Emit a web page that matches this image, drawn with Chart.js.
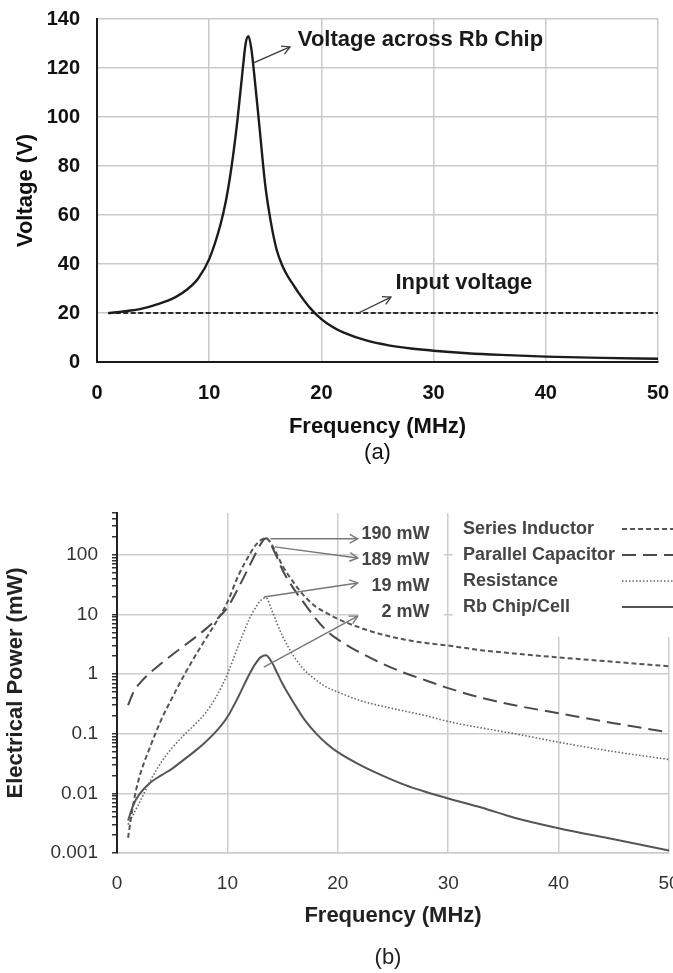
<!DOCTYPE html>
<html><head><meta charset="utf-8">
<script src="https://cdn.jsdelivr.net/npm/chart.js@4.4.1/dist/chart.umd.min.js"></script>
<style>
html,body{margin:0;padding:0;background:#fff;overflow:hidden;width:673px;height:973px;}
#wa{position:absolute;left:0;top:0;width:673px;height:475px;}
#wb{position:absolute;left:0;top:480px;width:692px;height:493px;}
canvas{display:block;}
</style></head><body>
<div id="wa"><canvas id="ca" width="673" height="475" style="width:673px;height:475px"></canvas></div>
<div id="wb"><canvas id="cb" width="692" height="493" style="width:692px;height:493px"></canvas></div>
<script>
// ---------- Chart (a) data ----------
const freqA = [1,2,3,4,5,6,7,8,9,10,11,11.5,12,12.5,13,13.25,13.5,13.75,14,14.5,15,15.5,16,16.5,17,17.5,18,19,20,21,22,24,26,28,30,33,36,40,45,50];
const voltageRbChip = [20.0,20.4,21.0,21.8,23.0,24.5,26.5,29.5,34,42,56,66,80,98,120,130,133,128,118,95,72,57,46,39.5,35,31.5,28,22,17.5,14.3,12,8.8,6.8,5.5,4.6,3.6,2.9,2.2,1.7,1.3];
const inputFreq = [1, 50];
const inputVoltage = [20, 20];
const freqTicks = [0,10,20,30,40,50];
const voltTicks = [0,20,40,60,80,100,120,140];

// ---------- Chart (b) data ----------
const freqB = [1,1.5,2,3,4,5,6,7,8,9,10,11,12,12.5,13,13.5,14,14.5,15,16,17,18,19,20,22,24,26,28,30,33,36,40,45,50];
const powerSeriesInductor = [0.0018,0.007,0.018,0.06,0.17,0.4,0.9,1.9,3.8,7.5,16,45,100,140,175,190,150,100,65,34,20,13.5,10.5,8.4,6.0,4.6,3.8,3.3,3.0,2.5,2.2,1.9,1.6,1.35];
const powerParallelCapacitor = [0.3,0.5,0.68,1.05,1.5,2.1,2.9,4.0,5.6,8.2,13,28,65,100,150,189,140,90,55,27,15,8.5,5.3,3.8,2.3,1.5,1.05,0.78,0.58,0.4,0.3,0.22,0.15,0.105];
const powerResistance = [0.003,0.0045,0.0068,0.016,0.033,0.058,0.092,0.14,0.22,0.42,1.0,3.0,8.5,12.5,17,19,12,7,4.3,2.0,1.15,0.8,0.6,0.5,0.36,0.29,0.24,0.2,0.16,0.125,0.1,0.072,0.05,0.037];
const powerRbChip = [0.0035,0.0065,0.0095,0.015,0.02,0.026,0.036,0.05,0.072,0.11,0.19,0.42,1.0,1.45,1.9,2.07,1.6,1.05,0.68,0.33,0.17,0.102,0.068,0.049,0.03,0.02,0.014,0.0105,0.0082,0.0058,0.0039,0.0026,0.0017,0.0011];
const powerTickValues = [0.001,0.01,0.1,1,10,100];
const powerTickLabels = ['0.001','0.01','0.1','1','10','100'];
const seriesNames = ['Series Inductor','Parallel Capacitor','Resistance','Rb Chip/Cell'];
const peakLabels = ['190 mW','189 mW','19 mW','2 mW'];
const peakArrowFrom = [[13.9,185],[14.3,135],[13.3,19.5],[13.3,1.3]];
const peakArrowTo = [[21.8,185],[21.8,88],[21.8,33.6],[21.8,9.35]];
const peakTextPos = [[28.3,224],[28.3,82],[28.3,29.9],[28.3,11]];

const FONT = "'Liberation Sans', Arial, Helvetica, sans-serif";
const CLEAR = 'rgba(0,0,0,0)';

function arrow(ctx,x1,y1,x2,y2,color,w){
  ctx.save();ctx.strokeStyle=color;ctx.lineWidth=w;ctx.setLineDash([]);
  ctx.beginPath();ctx.moveTo(x1,y1);ctx.lineTo(x2,y2);ctx.stroke();
  const a=Math.atan2(y2-y1,x2-x1),L=9,s=0.5;
  ctx.beginPath();
  ctx.moveTo(x2-L*Math.cos(a-s),y2-L*Math.sin(a-s));ctx.lineTo(x2,y2);
  ctx.lineTo(x2-L*Math.cos(a+s),y2-L*Math.sin(a+s));ctx.stroke();
  ctx.restore();
}
const pts=(xs,ys)=>xs.map((x,i)=>({x:x,y:ys[i]}));

// ---------- Chart (a) ----------
const annotA = [
  {text:'Voltage across Rb Chip', tx:17.9, ty:131.4, from:[13.9,122], to:[17.2,128.6]},
  {text:'Input voltage', tx:26.6, ty:32.2, from:[23.3,20], to:[26.2,26.5]}
];
const pluginA = {
  id:'annA',
  afterDatasetsDraw(chart){
    const {ctx,scales:{x,y},chartArea:ca}=chart;
    annotA.forEach(a=>{
      arrow(ctx,x.getPixelForValue(a.from[0]),y.getPixelForValue(a.from[1]),x.getPixelForValue(a.to[0]),y.getPixelForValue(a.to[1]),'#3a3a3a',1.3);
      ctx.save();ctx.fillStyle='#1a1a1a';ctx.font='bold 22px '+FONT;ctx.textBaseline='middle';ctx.textAlign='left';
      ctx.fillText(a.text,x.getPixelForValue(a.tx),y.getPixelForValue(a.ty));ctx.restore();
    });
    ctx.save();ctx.fillStyle='#111';ctx.font='22px '+FONT;ctx.textAlign='center';ctx.textBaseline='middle';
    ctx.fillText('(a)',(ca.left+ca.right)/2,ca.bottom+91);ctx.restore();
  }
};
new Chart(document.getElementById('ca'),{
  type:'line',
  data:{datasets:[
    {label:'Voltage across Rb Chip',data:pts(freqA,voltageRbChip),borderColor:'#1c1c1c',borderWidth:2.4,pointRadius:0,cubicInterpolationMode:'monotone',fill:false},
    {label:'Input voltage',data:pts(inputFreq,inputVoltage),borderColor:'#2a2a2a',borderWidth:2,borderDash:[5,2.5],pointRadius:0,fill:false}
  ]},
  options:{
    responsive:false,animation:false,devicePixelRatio:1,
    layout:{padding:{top:19,right:15,left:0,bottom:0}},
    plugins:{legend:{display:false},tooltip:{enabled:false}},
    scales:{
      x:{type:'linear',min:0,max:50,afterFit:s=>{s.height=113;},
        afterBuildTicks:s=>{s.ticks=freqTicks.map(v=>({value:v}));},
        ticks:{padding:0,color:'#111',maxRotation:0,font:{family:FONT,size:20,weight:'bold'}},
        grid:{color:c=>(c.tick&&c.tick.value===0)?CLEAR:'#c9c9c9',lineWidth:1.5,drawTicks:true,tickLength:19,tickColor:CLEAR},
        border:{display:true,color:'#1a1a1a',width:2},
        title:{display:true,text:'Frequency (MHz)',color:'#111',font:{family:FONT,size:22,weight:'bold'},padding:{top:0,bottom:35}}},
      y:{type:'linear',min:0,max:140,afterFit:s=>{s.width=97;},
        afterBuildTicks:s=>{s.ticks=voltTicks.map(v=>({value:v}));},
        ticks:{padding:0,color:'#111',font:{family:FONT,size:20,weight:'bold'}},
        grid:{color:c=>(c.tick&&c.tick.value===0)?CLEAR:'#c9c9c9',lineWidth:1.5,drawTicks:true,tickLength:17,tickColor:CLEAR},
        border:{display:true,color:'#1a1a1a',width:2},
        title:{display:true,text:'Voltage (V)',color:'#111',font:{family:FONT,size:22,weight:'bold'},padding:{top:13,bottom:0}}}
    }
  },
  plugins:[pluginA]
});

// ---------- Chart (b) ----------
const isMajor=v=>powerTickValues.some(p=>Math.abs(v/p-1)<1e-6);
const styleB=[
  {color:'#555',dash:[5,3],width:2},
  {color:'#4a4a4a',dash:[14,7],width:2},
  {color:'#666',dash:[1.5,2],width:1.6},
  {color:'#555',dash:[],width:2}
];
const seriesB=[powerSeriesInductor,powerParallelCapacitor,powerResistance,powerRbChip];
const pluginB={
  id:'annB',
  beforeDatasetsDraw(chart){
    const {ctx,chartArea:ca}=chart;
    ctx.save();ctx.fillStyle='#fff';
    ctx.fillRect(ca.left+241,ca.top-1,86,118);
    ctx.fillRect(ca.left+336,ca.top-1,chart.width,125);
    ctx.restore();
  },
  afterDatasetsDraw(chart){
    const {ctx,scales:{x,y},chartArea:ca}=chart;
    seriesNames.forEach((n,i)=>{
      const yy=ca.top+16+i*26;
      ctx.save();ctx.fillStyle='#444';ctx.font='bold 18px '+FONT;ctx.textBaseline='middle';ctx.textAlign='left';
      ctx.fillText(n,ca.left+346,yy);
      const st=styleB[i];ctx.strokeStyle=st.color;ctx.lineWidth=st.width;ctx.setLineDash(st.dash);
      ctx.beginPath();ctx.moveTo(ca.left+505,yy);ctx.lineTo(chart.width,yy);ctx.stroke();ctx.restore();
    });
    peakLabels.forEach((t,i)=>{
      arrow(ctx,x.getPixelForValue(peakArrowFrom[i][0]),y.getPixelForValue(peakArrowFrom[i][1]),x.getPixelForValue(peakArrowTo[i][0]),y.getPixelForValue(peakArrowTo[i][1]),'#777',1.4);
      ctx.save();ctx.fillStyle='#444';ctx.font='bold 18px '+FONT;ctx.textBaseline='middle';ctx.textAlign='right';
      ctx.fillText(t,x.getPixelForValue(peakTextPos[i][0]),y.getPixelForValue(peakTextPos[i][1]));ctx.restore();
    });
    ctx.save();ctx.fillStyle='#222';ctx.font='22px '+FONT;ctx.textAlign='center';ctx.textBaseline='middle';
    ctx.fillText('(b)',(ca.left+ca.right)/2-5,ca.bottom+105);ctx.restore();
  }
};
new Chart(document.getElementById('cb'),{
  type:'line',
  data:{datasets:seriesB.map((s,i)=>({label:seriesNames[i],data:pts(freqB,s),borderColor:styleB[i].color,borderWidth:styleB[i].width,borderDash:styleB[i].dash,pointRadius:0,cubicInterpolationMode:'monotone',fill:false}))},
  options:{
    responsive:false,animation:false,devicePixelRatio:1,
    layout:{padding:{top:33,right:23,left:0,bottom:0}},
    plugins:{legend:{display:false},tooltip:{enabled:false}},
    scales:{
      x:{type:'linear',min:0,max:50,afterFit:s=>{s.height=120;},
        afterBuildTicks:s=>{s.ticks=freqTicks.map(v=>({value:v}));},
        ticks:{padding:0,color:'#333',maxRotation:0,font:{family:FONT,size:19}},
        grid:{color:c=>(c.tick&&c.tick.value===0)?CLEAR:'#cdcdcd',lineWidth:1.5,drawTicks:true,tickLength:19,tickColor:CLEAR},
        border:{display:true,color:'#cdcdcd',width:1.5},
        title:{display:true,text:'Frequency (MHz)',color:'#222',font:{family:FONT,size:22,weight:'bold'},padding:{top:0,bottom:44}}},
      y:{type:'logarithmic',min:0.001,max:500,afterFit:s=>{s.width=117;},
        afterBuildTicks:s=>{const t=[];for(let e=-3;e<=2;e++){for(let m=1;m<=9;m++){const v=m*Math.pow(10,e);if(v<=500.0001)t.push({value:v});}}s.ticks=t;},
        ticks:{autoSkip:false,padding:14,color:'#333',font:{family:FONT,size:19},
          callback:v=>{const i=powerTickValues.findIndex(p=>Math.abs(v/p-1)<1e-6);return i>=0?powerTickLabels[i]:'';}},
        grid:{color:c=>(c.tick&&isMajor(c.tick.value))?'#cdcdcd':CLEAR,tickColor:'#333',tickLength:5,lineWidth:1.5,drawTicks:true},
        border:{display:true,color:'#222',width:2},
        title:{display:true,text:'Electrical Power (mW)',color:'#222',font:{family:FONT,size:22,weight:'bold'},padding:{top:3,bottom:0}}}
    }
  },
  plugins:[pluginB]
});
</script></body></html>
